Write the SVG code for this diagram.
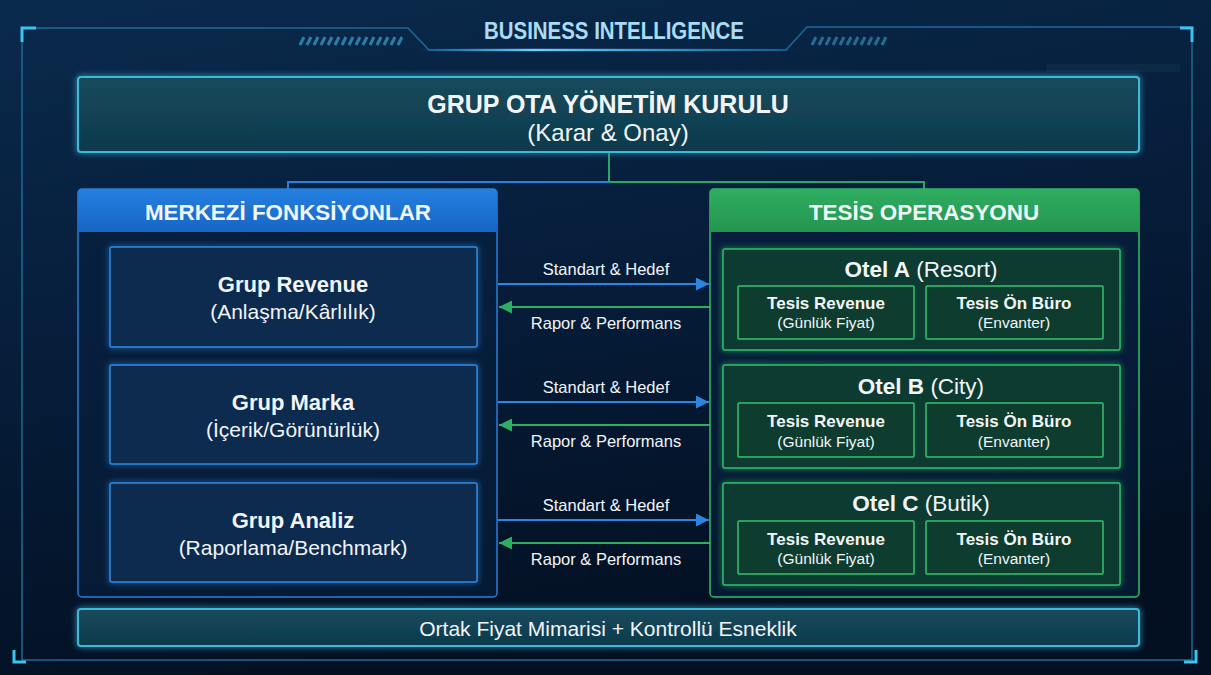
<svg xmlns="http://www.w3.org/2000/svg" width="1211" height="675" viewBox="0 0 1211 675">
<defs>
<linearGradient id="bg" x1="0" y1="0" x2="0.3" y2="1">
<stop offset="0" stop-color="#0a2a4c"/><stop offset="0.5" stop-color="#061d3a"/><stop offset="1" stop-color="#031022"/>
</linearGradient>
<linearGradient id="topfill" x1="0" y1="0" x2="0" y2="1">
<stop offset="0" stop-color="#154a5c"/><stop offset="1" stop-color="#0f3a4c"/>
</linearGradient>
<linearGradient id="bluehead" x1="0" y1="0" x2="0" y2="1">
<stop offset="0" stop-color="#2480e0"/><stop offset="1" stop-color="#1766c4"/>
</linearGradient>
<linearGradient id="greenhead" x1="0" y1="0" x2="0" y2="1">
<stop offset="0" stop-color="#2fae62"/><stop offset="1" stop-color="#24954f"/>
</linearGradient>
<linearGradient id="titleglow" x1="0" y1="0" x2="1" y2="0">
<stop offset="0" stop-color="#2ab0ff" stop-opacity="0"/><stop offset="0.3" stop-color="#6fd0ff" stop-opacity="1"/><stop offset="1" stop-color="#2ab0ff" stop-opacity="0"/>
</linearGradient>
<filter id="glow" x="-10%" y="-30%" width="120%" height="160%">
<feGaussianBlur in="SourceGraphic" stdDeviation="3" result="b"/>
<feMerge><feMergeNode in="b"/><feMergeNode in="SourceGraphic"/></feMerge>
</filter>
<marker id="ahBlue" viewBox="0 0 10 10" refX="10" refY="5" markerWidth="6.5" markerHeight="6.5" orient="auto">
<path d="M0,0 L10,5 L0,10 z" fill="#2a86e0"/>
</marker>
<marker id="ahGreen" viewBox="0 0 10 10" refX="10" refY="5" markerWidth="6.5" markerHeight="6.5" orient="auto">
<path d="M0,0 L10,5 L0,10 z" fill="#2bb062"/>
</marker>
<style>
text{font-family:"Liberation Sans",Arial,sans-serif;fill:#f2f5f8;text-anchor:middle}
.b{font-weight:bold}
.frame{fill:none;stroke:#1e6a94;stroke-width:1.5}
.corner{fill:none;stroke:#3cc4f0;stroke-width:3}
.hatch{stroke:#2c7ea8;stroke-width:3}
.inner{fill:#0b2a50;stroke:#2f8ae2;stroke-width:1.5}
.hotel{fill:#0d3a30;stroke:#2fbf6a;stroke-width:1.5}
.sub{fill:#0e3d2f;stroke:#34c26c;stroke-width:1.5}
.lbl{font-size:16.5px}
.bl{stroke:#2a86e0;stroke-width:2;fill:none}
.gl{stroke:#2bb062;stroke-width:2;fill:none}
.ht{font-size:17px}
.hs{font-size:15.5px}
</style>
</defs>
<rect width="1211" height="675" fill="url(#bg)"/>
<g id="frame">
<path class="frame" d="M22,28 H408 L429,50 H786 L807,27 H1192 V660 H22 Z"/>
<path class="corner" d="M22,42 V28 H36"/>
<path class="corner" d="M1180,28 H1192 V42"/>
<path class="corner" d="M14,650 V662 H26"/>
<path class="corner" d="M1184,662 H1196 V650"/>
<g class="hatch">
<path d="M300,45 l4,-8 M307,45 l4,-8 M314,45 l4,-8 M321,45 l4,-8 M328,45 l4,-8 M335,45 l4,-8 M342,45 l4,-8 M349,45 l4,-8 M356,45 l4,-8 M363,45 l4,-8 M370,45 l4,-8 M377,45 l4,-8 M384,45 l4,-8 M391,45 l4,-8 M398,45 l4,-8"/>
<path d="M812,45 l4,-8 M819,45 l4,-8 M826,45 l4,-8 M833,45 l4,-8 M840,45 l4,-8 M847,45 l4,-8 M854,45 l4,-8 M861,45 l4,-8 M868,45 l4,-8 M875,45 l4,-8 M882,45 l4,-8" opacity="0.8"/>
</g>
<rect x="420" y="49" width="380" height="2" fill="url(#titleglow)" filter="url(#glow)"/>
<text x="614" y="39" class="b" font-size="23" textLength="260" lengthAdjust="spacingAndGlyphs" style="fill:#a9dcf4">BUSINESS INTELLIGENCE</text>
<path d="M1046,64 h134 v8 h-134 z" fill="#0e2f4a" opacity="0.7"/>
</g>
<g id="connectors">
<path d="M609,152 V182 H924 V189" stroke="#2aa866" stroke-width="2" fill="none"/>
<path d="M609,182 H288 V189" stroke="#2a80d8" stroke-width="2" fill="none"/>
<path class="bl" d="M498,284 H709" marker-end="url(#ahBlue)"/>
<path class="gl" d="M710,307 H499" marker-end="url(#ahGreen)"/>
<path class="bl" d="M498,402 H709" marker-end="url(#ahBlue)"/>
<path class="gl" d="M710,425 H499" marker-end="url(#ahGreen)"/>
<path class="bl" d="M498,520 H709" marker-end="url(#ahBlue)"/>
<path class="gl" d="M710,543 H499" marker-end="url(#ahGreen)"/>
<text x="606" y="275" class="lbl">Standart &amp; Hedef</text>
<text x="606" y="329" class="lbl">Rapor &amp; Performans</text>
<text x="606" y="393" class="lbl">Standart &amp; Hedef</text>
<text x="606" y="447" class="lbl">Rapor &amp; Performans</text>
<text x="606" y="511" class="lbl">Standart &amp; Hedef</text>
<text x="606" y="565" class="lbl">Rapor &amp; Performans</text>
</g>
<g id="board">
<rect x="78" y="77" width="1061" height="75" rx="3" fill="url(#topfill)" stroke="#3fb8d8" stroke-width="2" filter="url(#glow)"/>
<text x="608" y="113" class="b" font-size="25">GRUP OTA YÖNETİM KURULU</text>
<text x="608" y="141" font-size="24">(Karar &amp; Onay)</text>
</g>
<g id="merkezi">
<rect x="78" y="189" width="419" height="408" rx="4" fill="#06203e" fill-opacity="0.6" stroke="#2a7fd4" stroke-width="1.5"/>
<path d="M78,232 V193 a4,4 0 0 1 4,-4 H493 a4,4 0 0 1 4,4 V232 Z" fill="url(#bluehead)"/>
<text x="288" y="220" class="b" font-size="22.4">MERKEZİ FONKSİYONLAR</text>
</g>
<g id="grup-revenue">
<rect class="inner" x="110" y="247" width="367" height="100" rx="2" filter="url(#glow)"/>
<text x="293" y="292" class="b" font-size="22">Grup Revenue</text>
<text x="293" y="319" font-size="21">(Anlaşma/Kârlılık)</text>
</g>
<g id="grup-marka">
<rect class="inner" x="110" y="365" width="367" height="99" rx="2" filter="url(#glow)"/>
<text x="293" y="410" class="b" font-size="22">Grup Marka</text>
<text x="293" y="437" font-size="21">(İçerik/Görünürlük)</text>
</g>
<g id="grup-analiz">
<rect class="inner" x="110" y="483" width="367" height="99" rx="2" filter="url(#glow)"/>
<text x="293" y="528" class="b" font-size="22">Grup Analiz</text>
<text x="293" y="555" font-size="21">(Raporlama/Benchmark)</text>
</g>
<g id="tesis">
<rect x="710" y="189" width="429" height="408" rx="4" fill="#06203e" fill-opacity="0.6" stroke="#2fbf6a" stroke-width="1.5"/>
<path d="M710,232 V193 a4,4 0 0 1 4,-4 H1135 a4,4 0 0 1 4,4 V232 Z" fill="url(#greenhead)"/>
<text x="924" y="220" class="b" font-size="22.4">TESİS OPERASYONU</text>
</g>
<g id="otel-a">
<rect class="hotel" x="723" y="249" width="397" height="101" rx="2" filter="url(#glow)"/>
<text x="921" y="277" font-size="22.5"><tspan class="b">Otel A</tspan> (Resort)</text>
<rect class="sub" x="738" y="286" width="176" height="53" rx="1"/>
<text x="826" y="309" class="b ht">Tesis Revenue</text>
<text x="826" y="328" class="hs">(Günlük Fiyat)</text>
<rect class="sub" x="926" y="286" width="177" height="53" rx="1"/>
<text x="1014" y="309" class="b ht">Tesis Ön Büro</text>
<text x="1014" y="328" class="hs">(Envanter)</text>
</g>
<g id="otel-b">
<rect class="hotel" x="723" y="365" width="397" height="103" rx="2" filter="url(#glow)"/>
<text x="921" y="394" font-size="22.5"><tspan class="b">Otel B</tspan> (City)</text>
<rect class="sub" x="738" y="403" width="176" height="54" rx="1"/>
<text x="826" y="427" class="b ht">Tesis Revenue</text>
<text x="826" y="447" class="hs">(Günlük Fiyat)</text>
<rect class="sub" x="926" y="403" width="177" height="54" rx="1"/>
<text x="1014" y="427" class="b ht">Tesis Ön Büro</text>
<text x="1014" y="447" class="hs">(Envanter)</text>
</g>
<g id="otel-c">
<rect class="hotel" x="723" y="483" width="397" height="102" rx="2" filter="url(#glow)"/>
<text x="921" y="511" font-size="22.5"><tspan class="b">Otel C</tspan> (Butik)</text>
<rect class="sub" x="738" y="521" width="176" height="53" rx="1"/>
<text x="826" y="545" class="b ht">Tesis Revenue</text>
<text x="826" y="564" class="hs">(Günlük Fiyat)</text>
<rect class="sub" x="926" y="521" width="177" height="53" rx="1"/>
<text x="1014" y="545" class="b ht">Tesis Ön Büro</text>
<text x="1014" y="564" class="hs">(Envanter)</text>
</g>
<g id="ortak">
<rect x="78" y="609" width="1061" height="37" rx="3" fill="url(#topfill)" stroke="#3fb8d8" stroke-width="2" filter="url(#glow)"/>
<text x="608" y="636" font-size="21">Ortak Fiyat Mimarisi + Kontrollü Esneklik</text>
</g>
</svg>
